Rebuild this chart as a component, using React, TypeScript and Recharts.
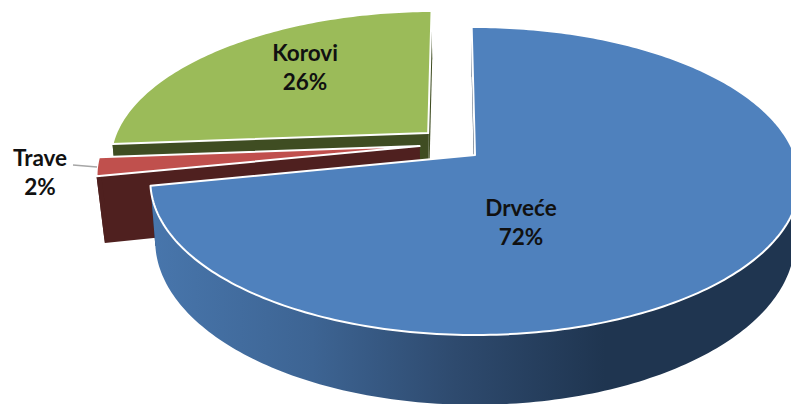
import React from "react";
import { PieChart, Pie, Cell } from "recharts";

const categories = ["Korovi", "Trave", "Drveće"];
const shares = [26, 2, 72];
const topColors = ["#9bbb59", "#c0504d", "#4f81bd"];
const cutColors = ["#3f4d22", "#4f201f", "#1f3550"];
const wallColors = ["#3f4d22", "#4f201f", "url(#blueWall)"];

const chartData = categories.map((name, i) => ({ name, value: shares[i] }));

const explode: Record<string, [number, number]> = {
  Korovi: [-0.15, -0.15],
  Trave: [-0.175, -0.06],
  "Drveće": [0, 0],
};
const depthOf: Record<string, number> = { Korovi: 58, Trave: 65, "Drveće": 58 };
const taperOf: Record<string, number> = { Korovi: 0.985, Trave: 0.978, "Drveće": 0.985 };
const labelOffset: Record<string, [number, number]> = {
  Korovi: [-170, -94],
  Trave: [-435, 11],
  "Drveće": [46, 61],
};

const K = 0.169;
const FLAT = 0.4675;
const RAD = Math.PI / 180;

function Slice(props: any) {
  const { cx, cy, outerRadius, startAngle, endAngle, index } = props;
  const name = categories[index];
  const [du, dv] = explode[name];
  const depth = depthOf[name];
  const taper = taperOf[name];
  const A = outerRadius;
  const B = A * FLAT;
  const project = (u: number, v: number, low: boolean) => {
    const uu = u + du;
    const vv = v + dv;
    const w = 1 - K * vv;
    return low
      ? [cx + (A * taper * uu) / w, cy + (B * vv) / w + depth / w]
      : [cx + (A * uu) / w, cy + (B * vv) / w];
  };
  const arc = (low: boolean) => {
    const pts: number[][] = [];
    const n = Math.max(4, Math.ceil(Math.abs(endAngle - startAngle)));
    for (let i = 0; i <= n; i++) {
      const a = (startAngle + ((endAngle - startAngle) * i) / n) * RAD;
      pts.push(project(Math.cos(a), -Math.sin(a), low));
    }
    return pts;
  };
  const toPath = (pts: number[][]) =>
    "M" + pts.map((p) => `${p[0].toFixed(2)},${p[1].toFixed(2)}`).join("L") + "Z";
  const topArc = arc(false);
  const lowArc = arc(true);
  const c0 = project(0, 0, false);
  const c1 = project(0, 0, true);
  const wall = [...topArc, ...[...lowArc].reverse()];
  const cutA = [c0, topArc[0], lowArc[0], c1];
  const cutB = [c0, topArc[topArc.length - 1], lowArc[lowArc.length - 1], c1];
  return (
    <g>
      <path d={toPath(cutA)} fill={cutColors[index]} />
      <path d={toPath(cutB)} fill={cutColors[index]} />
      <path d={toPath(wall)} fill={wallColors[index]} />
      <path d={toPath([c0, ...topArc])} fill={topColors[index]} stroke="#ffffff" strokeWidth={2} strokeLinejoin="round" />
    </g>
  );
}

function SliceLabel(props: any) {
  const { cx, cy, name, percent } = props;
  const [dx, dy] = labelOffset[name];
  const x = cx + dx;
  const y = cy + dy;
  return (
    <g>
      {name === "Trave" && <path d="M73,165L97,167" stroke="#a6a6a6" strokeWidth={1.5} fill="none" />}
      <text x={x} y={y} textAnchor="middle" fontFamily="Lato" fontWeight={700} fontSize={22.5} fill="#111111">
        {name}
      </text>
      <text x={x} y={y + 29} textAnchor="middle" fontFamily="Lato" fontWeight={700} fontSize={22.5} fill="#111111">
        {`${Math.round(percent * 100)}%`}
      </text>
    </g>
  );
}

export default function App() {
  return (
    <div style={{ position: "fixed", left: 0, top: 0, width: 791, height: 404, overflow: "hidden", background: "#ffffff" }}>
      <PieChart width={791} height={404} margin={{ top: 0, right: 0, bottom: 0, left: 0 }}>
        <defs>
          <linearGradient id="blueWall" gradientUnits="userSpaceOnUse" x1="150" y1="0" x2="800" y2="0">
            <stop offset="0" stopColor="#4876ac" />
            <stop offset="0.25" stopColor="#3d6493" />
            <stop offset="0.47" stopColor="#2e4a6e" />
            <stop offset="0.7" stopColor="#1f3550" />
            <stop offset="1" stopColor="#1f3550" />
          </linearGradient>
        </defs>
        <Pie
          data={chartData}
          dataKey="value"
          nameKey="name"
          cx={475}
          cy={155}
          outerRadius={320}
          startAngle={90.7}
          endAngle={450.7}
          paddingAngle={0}
          stroke="none"
          isAnimationActive={false}
          shape={Slice}
          label={SliceLabel}
          labelLine={false}
        >
          {chartData.map((d, i) => (
            <Cell key={d.name} fill={topColors[i]} />
          ))}
        </Pie>
      </PieChart>
    </div>
  );
}
